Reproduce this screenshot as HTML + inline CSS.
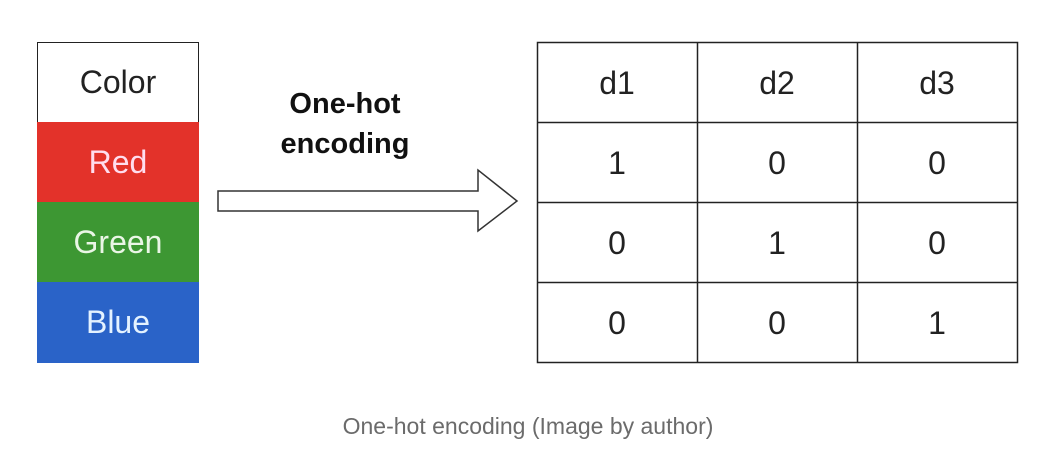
<!DOCTYPE html>
<html><head><style>
body{margin:0;width:1042px;height:468px;background:#fff;position:relative;font-family:"Liberation Sans",Arial,sans-serif;overflow:hidden}
.c{position:absolute;display:flex;align-items:center;justify-content:center;font-size:32px}
</style></head><body>
<div class="c" style="left:37px;top:42px;width:160px;height:79px;border:1.5px solid #222;border-bottom:none;color:#222">Color</div>
<div class="c" style="left:37px;top:122px;width:162px;height:80px;background:#e3322a;color:#fde">Red</div>
<div class="c" style="left:37px;top:202px;width:162px;height:80px;background:#3d9733;color:#eaf6e6">Green</div>
<div class="c" style="left:37px;top:282px;width:162px;height:81px;background:#2a63c8;color:#e4f2ff">Blue</div>
<div style="position:absolute;left:230px;top:84px;width:230px;text-align:center;font-weight:bold;font-size:29px;line-height:40px;color:#111">One-hot<br>encoding</div>
<svg style="position:absolute;left:0;top:0" width="1042" height="468">
<polygon points="218,191 478,191 478,170 517,201 478,231 478,211 218,211" fill="#fff" stroke="#333" stroke-width="1.5"/>
<g stroke="#222" stroke-width="1.5" fill="none">
<rect x="537.5" y="42.5" width="480" height="320"/>
<line x1="697.5" y1="42" x2="697.5" y2="363"/><line x1="857.5" y1="42" x2="857.5" y2="363"/>
<line x1="537" y1="122.5" x2="1018" y2="122.5"/><line x1="537" y1="202.5" x2="1018" y2="202.5"/><line x1="537" y1="282.5" x2="1018" y2="282.5"/>
</g>
<g font-family="Liberation Sans,Arial,sans-serif" font-size="32" fill="#222" text-anchor="middle">
<text x="617" y="94">d1</text><text x="777" y="94">d2</text><text x="937" y="94">d3</text>
<text x="617" y="174">1</text><text x="777" y="174">0</text><text x="937" y="174">0</text>
<text x="617" y="254">0</text><text x="777" y="254">1</text><text x="937" y="254">0</text>
<text x="617" y="334">0</text><text x="777" y="334">0</text><text x="937" y="334">1</text>
</g>
<text x="528" y="434" text-anchor="middle" font-family="Liberation Sans,Arial,sans-serif" font-size="23" fill="#6b6b6b">One-hot encoding (Image by author)</text>
</svg>
</body></html>
